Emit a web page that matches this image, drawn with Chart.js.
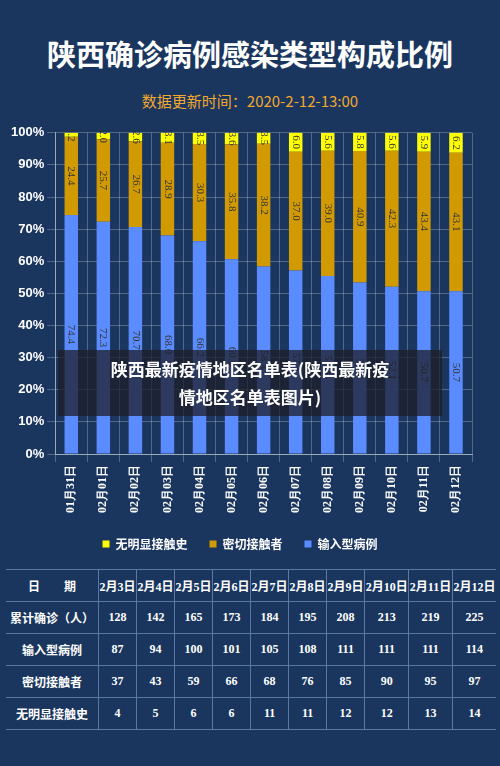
<!DOCTYPE html>
<html><head><meta charset="utf-8">
<script src="https://cdn.jsdelivr.net/npm/chart.js@4"></script>
<style>
body{margin:0;width:500px;height:766px;background:#1a365e;font-family:"Noto Sans CJK SC",sans-serif;position:relative;overflow:hidden}
#title{position:absolute;top:32px;left:0;width:500px;text-align:center;color:#fff;font-size:29px;font-weight:bold}
#sub{position:absolute;top:90px;left:0;width:500px;text-align:center;color:#f0a830;font-size:15px}
#wrap{position:absolute;top:122px;left:0;width:500px;height:438px}
#overlay{position:absolute;top:350px;left:58px;width:384px;height:66px;background:rgba(30,30,40,0.75);color:#fff;font-weight:bold;font-size:17px;text-align:center;line-height:28px;padding-top:5px;box-sizing:border-box}
table{position:absolute;top:569px;left:6px;width:490px;border-collapse:collapse;color:#fff;font-family:"Liberation Serif","Noto Sans CJK SC",serif;font-weight:bold;font-size:12px;text-align:center}
td{border:1px solid #5a7aa5;height:31px;padding:0}
td:first-child{border-left:none;width:92px}
td:last-child{border-right:none}
</style></head><body>
<div id="title">陕西确诊病例感染类型构成比例</div>
<div id="sub">数据更新时间：2020-2-12-13:00</div>
<div id="wrap"><canvas id="c"></canvas></div>
<div id="overlay">陕西最新疫情地区名单表(陕西最新疫<br>情地区名单表图片)</div>
<table id="tbl"></table>
<script>
const dates = ['01月31日','02月01日','02月02日','02月03日','02月04日','02月05日','02月06日','02月07日','02月08日','02月09日','02月10日','02月11日','02月12日'];
const imported = [74.4,72.3,70.7,68.0,66.2,60.6,58.4,57.1,55.4,53.4,52.1,50.7,50.7];
const contacts = [24.4,25.7,26.7,28.9,30.3,35.8,38.2,37.0,39.0,40.9,42.3,43.4,43.1];
const noContact = [1.2,2.0,2.6,3.1,3.5,3.6,3.5,6.0,5.6,5.8,5.6,5.9,6.2];
const yTicks = ['0%','10%','20%','30%','40%','50%','60%','70%','80%','90%','100%'];

const tableHead = ['日　　期','2月3日','2月4日','2月5日','2月6日','2月7日','2月8日','2月9日','2月10日','2月11日','2月12日'];
const tableRows = [
  ['累计确诊（人）',128,142,165,173,184,195,208,213,219,225],
  ['输入型病例',87,94,100,101,105,108,111,111,111,114],
  ['密切接触者',37,43,59,66,68,76,85,90,95,97],
  ['无明显接触史',4,5,6,6,11,11,12,12,13,14]
];
const tbl = document.getElementById('tbl');
[tableHead, ...tableRows].forEach(r => {
  const tr = document.createElement('tr');
  r.forEach(v => { const td = document.createElement('td'); td.textContent = v; tr.appendChild(td); });
  tbl.appendChild(tr);
});

// rotated value labels inside each bar segment
const barLabels = {
  id: 'barLabels',
  afterDatasetsDraw(chart) {
    const ctx = chart.ctx;
    chart.data.datasets.forEach((ds, i) => {
      chart.getDatasetMeta(i).data.forEach((bar, j) => {
        const y = (bar.y + bar.base) / 2;
        ctx.save();
        ctx.translate(bar.x, y);
        ctx.rotate(Math.PI / 2);
        ctx.fillStyle = '#333';
        ctx.font = '11px "Liberation Serif"';
        ctx.textAlign = 'center';
        ctx.textBaseline = 'middle';
        ctx.fillText(ds.data[j].toFixed(1), 0, 0);
        ctx.restore();
      });
    });
  }
};

new Chart(document.getElementById('c'), {
  type: 'bar',
  data: {
    labels: dates,
    datasets: [
      { label: '输入型病例', data: imported, backgroundColor: '#5b8cff' },
      { label: '密切接触者', data: contacts, backgroundColor: '#d19a00' },
      { label: '无明显接触史', data: noContact, backgroundColor: '#ffff00' }
    ].map(d => ({ ...d, barPercentage: 0.42, categoryPercentage: 1 }))
  },
  options: {
    responsive: true, maintainAspectRatio: false, animation: false,
    layout: { padding: { left: 8, right: 28, top: 6 } },
    plugins: {
      legend: {
        position: 'bottom', reverse: true,
        labels: { color: '#fff', boxWidth: 7, boxHeight: 7, padding: 22,
          font: { size: 12, weight: 'bold', family: '"Noto Sans CJK SC"' } }
      },
      tooltip: { enabled: false }
    },
    scales: {
      x: {
        stacked: true,
        grid: { color: 'rgba(255,255,255,0.25)', offset: true },
        border: { color: '#9ab' },
        ticks: { color: '#fff', maxRotation: 90, minRotation: 90,
          font: { size: 12, weight: 'bold', family: '"Liberation Serif"' } }
      },
      y: {
        stacked: true, min: 0, max: 100,
        grid: { color: 'rgba(255,255,255,0.25)' },
        border: { color: '#9ab' },
        ticks: { stepSize: 10, color: '#fff', callback: (v, i) => yTicks[i],
          font: { size: 13, weight: 'bold', family: '"Liberation Sans"' } }
      }
    }
  },
  plugins: [barLabels]
});
</script>
</body></html>
